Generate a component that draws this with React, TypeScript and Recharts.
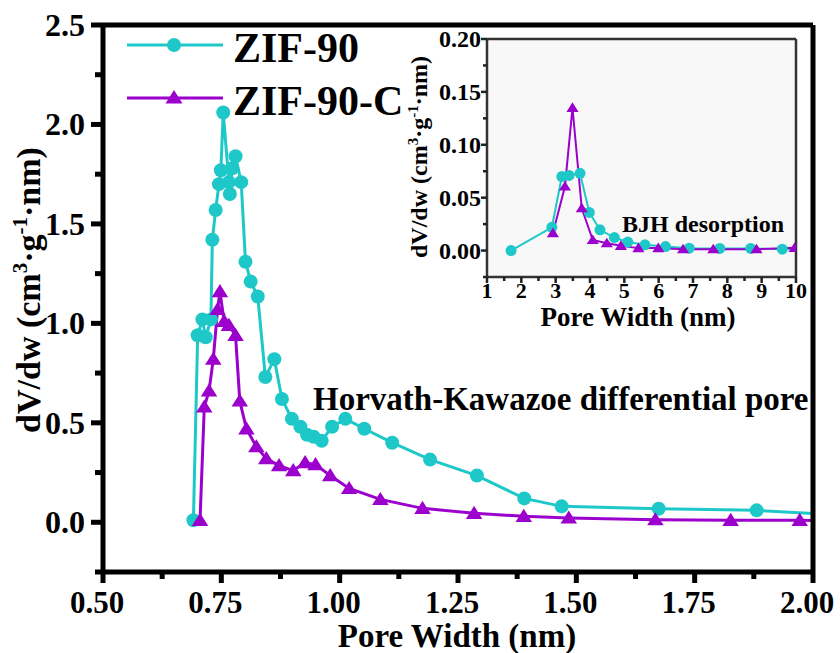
import { LineChart, Line, XAxis, YAxis, CartesianGrid, ReferenceLine } from "recharts";

const CYAN = "#1fc8c8";
const PURPLE = "#9b00cc";
const FONT = "'Liberation Serif', 'Times New Roman', serif";

// Horvath-Kawazoe differential pore distribution (main plot)
const hkZif90Width = [
  0.691, 0.7, 0.71, 0.717, 0.728, 0.731, 0.738, 0.745, 0.749, 0.754, 0.766, 0.768,
  0.773, 0.78, 0.792, 0.801, 0.812, 0.827, 0.843, 0.862, 0.878, 0.899, 0.917, 0.931,
  0.945, 0.962, 0.984, 1.012, 1.052, 1.111, 1.191, 1.29, 1.39, 1.469, 1.674, 1.881, 2.02,
];
const hkZif90Dv = [
  0.01, 0.94, 1.02, 0.93, 1.02, 1.42, 1.57, 1.7, 1.77, 2.06, 1.71, 1.65,
  1.78, 1.84, 1.71, 1.31, 1.21, 1.135, 0.73, 0.82, 0.62, 0.52, 0.48, 0.44,
  0.43, 0.41, 0.48, 0.52, 0.47, 0.4, 0.315, 0.235, 0.12, 0.08, 0.068, 0.06, 0.042,
];
const hkZif90cWidth = [
  0.705, 0.714, 0.724, 0.733, 0.742, 0.747, 0.756, 0.766, 0.78, 0.789, 0.803, 0.824,
  0.845, 0.872, 0.902, 0.927, 0.949, 0.98, 1.02, 1.086, 1.175, 1.284, 1.389, 1.484,
  1.667, 1.826, 1.972, 2.02,
];
const hkZif90cDv = [
  0.01, 0.58, 0.66, 0.82, 1.07, 1.16, 1.01, 0.99, 0.94, 0.61, 0.47, 0.38,
  0.32, 0.285, 0.26, 0.3, 0.29, 0.235, 0.17, 0.115, 0.07, 0.045, 0.03, 0.022,
  0.013, 0.01, 0.01, 0.008,
];

// BJH desorption (inset)
const bjhZif90Width = [1.7, 2.89, 3.18, 3.39, 3.71, 3.98, 4.29, 4.71, 5.1, 5.6, 6.2, 6.89, 7.78, 8.68, 9.6, 10.3];
const bjhZif90Dv = [0, 0.022, 0.07, 0.071, 0.073, 0.036, 0.0196, 0.0123, 0.008, 0.0054, 0.0038, 0.0022, 0.002, 0.002, 0.0013, 0.0012];
const bjhZif90cWidth = [2.92, 3.27, 3.49, 3.76, 4.08, 4.49, 4.9, 5.41, 5.99, 6.71, 7.59, 8.85, 9.96];
const bjhZif90cDv = [0.0165, 0.0606, 0.135, 0.04, 0.01, 0.007, 0.0045, 0.0023, 0.0023, 0.0013, 0.0013, 0.0013, 0.0026];

const mainXTicks = [0.5, 0.625, 0.75, 0.875, 1, 1.125, 1.25, 1.375, 1.5, 1.625, 1.75, 1.875, 2];
const mainYTicks = [-0.25, 0, 0.25, 0.5, 0.75, 1, 1.25, 1.5, 1.75, 2, 2.25, 2.5];
const insetXTicks = [1, 1.5, 2, 2.5, 3, 3.5, 4, 4.5, 5, 5.5, 6, 6.5, 7, 7.5, 8, 8.5, 9, 9.5, 10];
const insetYTicks = [-0.025, 0, 0.025, 0.05, 0.075, 0.1, 0.125, 0.15, 0.175, 0.2];

const mainXDomain: [number, number] = [0.5, 2];
const mainYDomain: [number, number] = [-0.25, 2.5];
const insetXDomain: [number, number] = [1, 10];
const insetYDomain: [number, number] = [-0.025, 0.2];

const series = ["ZIF-90", "ZIF-90-C"];

const toPoints = (w: number[], dv: number[]) => w.map((x, i) => ({ w: x, dv: dv[i] }));

const circleDot = (r: number) => (p: any) => (
  <circle key={`c${p.index}`} cx={p.cx} cy={p.cy} r={r} fill={CYAN} />
);
const triangleDot = (s: number) => (p: any) => (
  <path
    key={`t${p.index}`}
    d={`M${p.cx},${p.cy - s}L${p.cx + s * 1.1},${p.cy + s * 0.75}L${p.cx - s * 1.1},${p.cy + s * 0.75}Z`}
    fill={PURPLE}
  />
);

const isMajor = (v: number, step: number) => Math.abs(v / step - Math.round(v / step)) < 1e-6;

// ticks are drawn as filled rects so their weight stays solid
const MainXTick = (p: any) => {
  const v = p.payload.value;
  const major = isMajor(v, 0.25);
  return (
    <g>
      <rect x={p.x - 2.5} y={p.y} width={5} height={major ? 11 : 7} fill="#000" />
      {major && (
        <text x={p.x - 6} y={p.y + 41} textAnchor="middle" fontFamily={FONT} fontWeight="bold" fontSize={31} fill="#000">
          {v.toFixed(2)}
        </text>
      )}
    </g>
  );
};

const MainYTick = (p: any) => {
  const v = p.payload.value;
  const major = isMajor(v, 0.5);
  const len = major ? 12 : 8;
  return (
    <g>
      <rect x={p.x - len} y={p.y - 2.5} width={len} height={5} fill="#000" />
      {major && (
        <text x={p.x - 18} y={p.y + 11} textAnchor="end" fontFamily={FONT} fontWeight="bold" fontSize={32} fill="#000">
          {v.toFixed(1)}
        </text>
      )}
    </g>
  );
};

const InsetXTick = (p: any) => {
  const v = p.payload.value;
  const major = isMajor(v, 1);
  return (
    <g>
      <rect x={p.x - 1.25} y={p.y} width={2.5} height={major ? 6 : 4} fill="#222" />
      {major && (
        <text x={p.x} y={p.y + 21} textAnchor="middle" fontFamily={FONT} fontWeight="bold" fontSize={22} fill="#000">
          {v}
        </text>
      )}
    </g>
  );
};

const InsetYTick = (p: any) => {
  const v = p.payload.value;
  const major = isMajor(v, 0.05);
  const len = major ? 6 : 4;
  return (
    <g>
      <rect x={p.x - len} y={p.y - 1.25} width={len} height={2.5} fill="#222" />
      {major && (
        <text x={p.x - 6} y={p.y + 8} textAnchor="end" fontFamily={FONT} fontWeight="bold" fontSize={24} fill="#000">
          {v.toFixed(2)}
        </text>
      )}
    </g>
  );
};

// four edge lines of a plot box, placed at the ends of the axis domains
const frameLines = (xd: [number, number], yd: [number, number], color: string, width: number) => [
  <ReferenceLine key="fl" x={xd[0]} ifOverflow="visible" stroke={color} strokeWidth={width} />,
  <ReferenceLine key="fr" x={xd[1]} ifOverflow="visible" stroke={color} strokeWidth={width} />,
  <ReferenceLine key="fb" y={yd[0]} ifOverflow="visible" stroke={color} strokeWidth={width} />,
  <ReferenceLine key="ft" y={yd[1]} ifOverflow="visible" stroke={color} strokeWidth={width} />,
];

function MainChart() {
  return (
    <LineChart width={840} height={653} margin={{ top: 25, right: 27, bottom: 0, left: 0 }}>
      <XAxis
        type="number"
        dataKey="w"
        domain={mainXDomain}
        allowDataOverflow
        ticks={mainXTicks}
        interval={0}
        height={81}
        tickSize={0}
        tickMargin={0}
        tickLine={false}
        axisLine={false}
        tick={<MainXTick />}
      />
      <YAxis
        type="number"
        domain={mainYDomain}
        allowDataOverflow
        ticks={mainYTicks}
        interval={0}
        width={103}
        tickSize={0}
        tickMargin={0}
        tickLine={false}
        axisLine={false}
        tick={<MainYTick />}
      />
      <Line
        data={toPoints(hkZif90Width, hkZif90Dv)}
        dataKey="dv"
        name={series[0]}
        stroke={CYAN}
        strokeWidth={3}
        dot={circleDot(7)}
        isAnimationActive={false}
      />
      <Line
        data={toPoints(hkZif90cWidth, hkZif90cDv)}
        dataKey="dv"
        name={series[1]}
        stroke={PURPLE}
        strokeWidth={3}
        dot={triangleDot(7.5)}
        isAnimationActive={false}
      />
      {frameLines(mainXDomain, mainYDomain, "#000000", 5)}
    </LineChart>
  );
}

function InsetChart() {
  return (
    <LineChart width={440} height={320} margin={{ top: 19, right: 24, bottom: 0, left: 0 }}>
      <CartesianGrid horizontal={false} vertical={false} fill="#f8f8f8" stroke="none" />
      <XAxis
        type="number"
        dataKey="w"
        domain={insetXDomain}
        allowDataOverflow
        ticks={insetXTicks}
        interval={0}
        height={63}
        tickSize={0}
        tickMargin={0}
        tickLine={false}
        axisLine={false}
        tick={<InsetXTick />}
      />
      <YAxis
        type="number"
        domain={insetYDomain}
        allowDataOverflow
        ticks={insetYTicks}
        interval={0}
        width={107}
        tickSize={0}
        tickMargin={0}
        tickLine={false}
        axisLine={false}
        tick={<InsetYTick />}
      />
      <Line
        data={toPoints(bjhZif90Width, bjhZif90Dv)}
        dataKey="dv"
        name={series[0]}
        stroke={CYAN}
        strokeWidth={2}
        dot={circleDot(5.5)}
        isAnimationActive={false}
      />
      <Line
        data={toPoints(bjhZif90cWidth, bjhZif90cDv)}
        dataKey="dv"
        name={series[1]}
        stroke={PURPLE}
        strokeWidth={2}
        dot={triangleDot(5.5)}
        isAnimationActive={false}
      />
      {frameLines(insetXDomain, insetYDomain, "#333333", 2.5)}
    </LineChart>
  );
}

// y-axis title with superscripts
const DvTitle = ({ x, y, size }: { x: number; y: number; size: number }) => {
  const sup = Math.round(size * 0.62);
  const shift = Math.round(size * 0.38);
  return (
    <text
      transform={`translate(${x},${y}) rotate(-90)`}
      textAnchor="middle"
      fontFamily={FONT}
      fontWeight="bold"
      fontSize={size}
      fill="#000"
    >
      <tspan>dV/dw (cm</tspan>
      <tspan fontSize={sup} dy={-shift}>3</tspan>
      <tspan dy={shift}>·g</tspan>
      <tspan fontSize={sup} dy={-shift}>-1</tspan>
      <tspan dy={shift}>·nm)</tspan>
    </text>
  );
};

function Overlay() {
  const txt = { fontFamily: FONT, fontWeight: "bold" as const, fill: "#000" };
  return (
    <svg width={840} height={653} style={{ position: "absolute", left: 0, top: 0, pointerEvents: "none" }}>
      {/* legend */}
      <line x1={127} x2={223} y1={45} y2={45} stroke={CYAN} strokeWidth={3} />
      <circle cx={174} cy={45} r={7} fill={CYAN} />
      <text x={233} y={62} fontSize={42} {...txt}>{series[0]}</text>
      <line x1={127} x2={223} y1={98} y2={98} stroke={PURPLE} strokeWidth={3} />
      <path d="M174,90L182.5,103.5L165.5,103.5Z" fill={PURPLE} />
      <text x={233} y={115} fontSize={42} {...txt}>{series[1]}</text>

      {/* axis titles */}
      <text x={457} y={647} textAnchor="middle" fontSize={33} {...txt}>Pore Width (nm)</text>
      <DvTitle x={40} y={290} size={34} />
      <text x={638} y={326} textAnchor="middle" fontSize={27} {...txt}>Pore Width (nm)</text>
      <DvTitle x={427} y={157} size={24} />

      {/* annotations */}
      <text x={313} y={410} fontSize={33} {...txt}>Horvath-Kawazoe differential pore</text>
      <text x={622} y={232} fontSize={24} {...txt}>BJH desorption</text>
    </svg>
  );
}

export default function App() {
  return (
    <div style={{ position: "relative", width: 840, height: 653, background: "#fff" }}>
      <style>{`body{margin:0}`}</style>
      <MainChart />
      <div style={{ position: "absolute", left: 380, top: 20 }}>
        <InsetChart />
      </div>
      <Overlay />
    </div>
  );
}
